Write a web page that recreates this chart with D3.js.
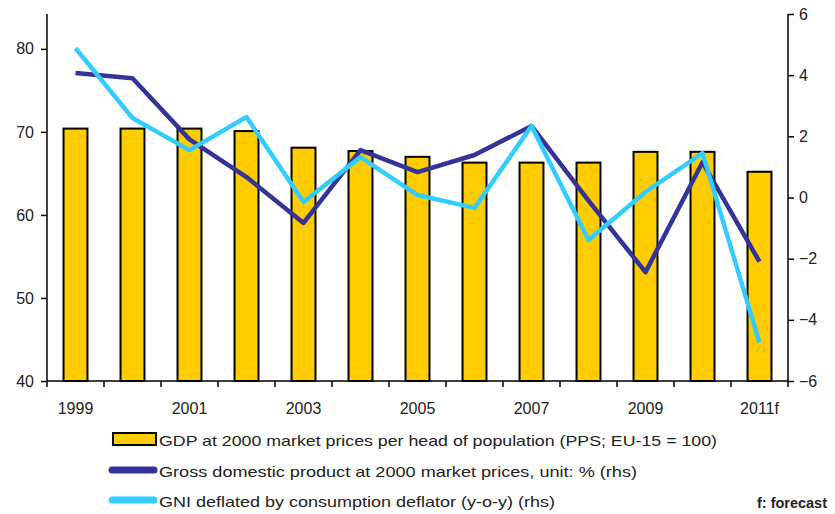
<!DOCTYPE html>
<html>
<head>
<meta charset="utf-8">
<script src="https://cdn.jsdelivr.net/npm/d3@7"></script>
<style>
  body { margin: 0; background: #fff; }
  text { font-family: "Liberation Sans", Arial, sans-serif; }
</style>
</head>
<body>
<svg width="835" height="514"></svg>
<script>
var years = ["1999","2000","2001","2002","2003","2004","2005","2006","2007","2008","2009","2010","2011f"];
var gdpPerHead = [70.4, 70.4, 70.4, 70.1, 68.1, 67.7, 67.0, 66.3, 66.3, 66.3, 67.6, 67.6, 65.2];
var gdpGrowth = [4.07, 3.9, 1.9, 0.67, -0.83, 1.55, 0.83, 1.39, 2.34, -0.1, -2.44, 1.15, -2.1];
var gniDeflated = [4.88, 2.6, 1.55, 2.63, -0.15, 1.32, 0.08, -0.34, 2.34, -1.39, 0.18, 1.45, -4.75];
var leftTicks = [40, 50, 60, 70, 80];
var rightTicks = [-6, -4, -2, 0, 2, 4, 6];
var legendLabels = [
  "GDP at 2000 market prices per head of population (PPS; EU-15 = 100)",
  "Gross domestic product at 2000 market prices, unit: % (rhs)",
  "GNI  deflated by consumption deflator (y-o-y) (rhs)"
];

var svg = d3.select("svg"),
    margin = {top: 14, right: 47, bottom: 133, left: 47},
    width = +svg.attr("width") - margin.left - margin.right,
    height = +svg.attr("height") - margin.top - margin.bottom;

var g = svg.append("g").attr("transform", "translate(" + margin.left + "," + margin.top + ")");

var x = d3.scaleBand().domain(years).range([0, width]).paddingInner(0.58).paddingOuter(0.29);
var xPos = d3.scaleBand().domain(years).range([0, width]);
var yL = d3.scaleLinear().domain([40, 84.2]).range([height, 0]);
var yR = d3.scaleLinear().domain([-6, 6]).range([height, 0]);

// bars
g.selectAll(".bar")
  .data(gdpPerHead)
  .enter().append("rect")
  .attr("class", "bar")
  .attr("x", function(d, i) { return x(years[i]); })
  .attr("y", function(d) { return yL(d); })
  .attr("width", x.bandwidth())
  .attr("height", function(d) { return height - yL(d); })
  .attr("fill", "#ffcc00")
  .attr("stroke", "#000")
  .attr("stroke-width", 2);

var line = d3.line()
  .x(function(d, i) { return xPos(years[i]) + xPos.bandwidth() / 2; })
  .y(function(d) { return yR(d); });

g.append("path").datum(gdpGrowth)
  .attr("d", line).attr("fill", "none")
  .attr("stroke", "#333399").attr("stroke-width", 4.5).attr("stroke-linejoin", "round");

g.append("path").datum(gniDeflated)
  .attr("d", line).attr("fill", "none")
  .attr("stroke", "#33ccff").attr("stroke-width", 4.5).attr("stroke-linejoin", "round");

// axes
var axL = g.append("g")
  .call(d3.axisLeft(yL).tickValues(leftTicks).tickSize(6).tickPadding(7));
var axR = g.append("g")
  .attr("transform", "translate(" + width + ",0)")
  .call(d3.axisRight(yR).tickValues(rightTicks).tickSize(6).tickPadding(5));

var axB = g.append("g")
  .attr("transform", "translate(0," + height + ")")
  .call(d3.axisBottom(xPos).tickSize(0).tickPadding(22)
    .tickFormat(function(d, i) { return i % 2 == 0 ? d : ""; }));

axB.selectAll(".tick").attr("transform", function(d) {
  return "translate(" + (xPos(d) + xPos.bandwidth() / 2) + ",0)";
});

// boundary ticks on x axis
g.append("g").selectAll("line")
  .data(years.concat(["end"]))
  .enter().append("line")
  .attr("x1", function(d, i) { return i * xPos.step(); })
  .attr("x2", function(d, i) { return i * xPos.step(); })
  .attr("y1", height).attr("y2", height + 6)
  .attr("stroke", "#000").attr("stroke-width", 1.5);

[axL, axR, axB].forEach(function(a) {
  a.select(".domain").attr("stroke", "#000").attr("stroke-width", 1.5);
  a.selectAll(".tick line").attr("stroke", "#000").attr("stroke-width", 1.5);
  a.selectAll("text").attr("font-size", 16).attr("fill", "#222")
    .style("font-family", "'Liberation Sans', Arial, sans-serif");
});
axL.select(".domain").attr("d", "M0," + height + "V0");
axR.select(".domain").attr("d", "M0," + height + "V0");
axB.select(".domain").attr("d", "M0,0H" + width);

// legend
var leg = svg.append("g").attr("transform", "translate(110,433)");
leg.append("rect").attr("x", 3).attr("y", 0).attr("width", 43).attr("height", 12)
  .attr("fill", "#ffcc00").attr("stroke", "#000").attr("stroke-width", 2);
leg.append("line").attr("x1", 2).attr("x2", 44).attr("y1", 37).attr("y2", 37)
  .attr("stroke", "#333399").attr("stroke-width", 7).attr("stroke-linecap", "round");
leg.append("line").attr("x1", 2).attr("x2", 44).attr("y1", 67).attr("y2", 67)
  .attr("stroke", "#33ccff").attr("stroke-width", 7).attr("stroke-linecap", "round");

leg.selectAll(".lt")
  .data(legendLabels)
  .enter().append("text")
  .attr("class", "lt")
  .attr("x", 49)
  .attr("y", function(d, i) { return 13 + i * 30.5; })
  .attr("font-size", 15)
  .attr("fill", "#222")
  .attr("textLength", function(d, i) { return [558, 478, 396][i]; })
  .attr("lengthAdjust", "spacingAndGlyphs")
  .text(function(d) { return d; });

svg.append("text")
  .attr("x", 757).attr("y", 508)
  .attr("font-size", 15)
  .attr("font-weight", "bold")
  .attr("font-family", "'Liberation Serif', 'Times New Roman', serif")
  .attr("fill", "#222")
  .attr("textLength", 70)
  .attr("lengthAdjust", "spacingAndGlyphs")
  .text("f: forecast");
</script>
</body>
</html>
